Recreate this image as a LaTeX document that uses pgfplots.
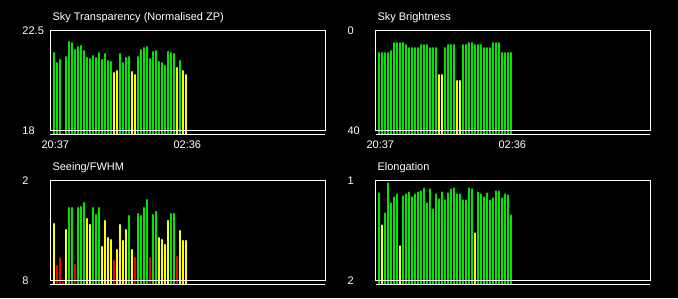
\documentclass[border=0pt]{standalone}
\usepackage{fontspec}
\setmainfont{Liberation Sans}
\usepackage{pgfplots}
\pgfplotsset{compat=1.18}

\definecolor{bgreen}{RGB}{0,230,0}
\definecolor{byellow}{RGB}{255,255,0}
\definecolor{bred}{RGB}{240,0,0}

\newcommand{\lbl}{\fontsize{11}{13}\selectfont}

\pgfplotsset{
  panel/.style={
    scale only axis, width=275pt, height=104pt,
    xmin=-1.1667, xmax=90.5,
    anchor=south west,
    axis line style={draw=none},
    tick style={draw=none},
    major tick length=0pt,
    clip mode=individual,
    xtick=\empty,
    tick label style={font=\lbl, text=white, inner sep=0pt},
    yticklabel style={anchor=west, xshift=-28.2pt},
    xticklabel style={anchor=north, yshift=-6.2pt},
  },
  % thin bars drawn as fat error bars from the value to the base line
  bar/.style n args={3}{only marks, mark=none,
    error bars/.cd, y dir=#2, y fixed=#3, error mark=none,
    error bar style={draw=#1, line width=2pt}},
}

\begin{document}
\begin{tikzpicture}
\fill[black] (0pt,0pt) rectangle (678pt,298pt);
\useasboundingbox (0pt,0pt) rectangle (678pt,298pt);

% titles
\node[anchor=base west, inner sep=0pt, text=white, font=\lbl] at (52.3pt,277.3pt) {Sky Transparency (Normalised ZP)};
\node[anchor=base west, inner sep=0pt, text=white, font=\lbl] at (377.3pt,277.3pt) {Sky Brightness};
\node[anchor=base west, inner sep=0pt, text=white, font=\lbl] at (52.3pt,127.3pt) {Seeing/FWHM};
\node[anchor=base west, inner sep=0pt, text=white, font=\lbl] at (377.3pt,127.3pt) {Elongation};

% Sky transparency
\begin{axis}[panel, at={(50.5pt,163.5pt)},
    ymin=17.82, ymax=22.5,
    ytick={18,22.5}, yticklabels={18,22.5},
    xtick={0.43,44.43}, xticklabels={20:37,02:36}]
  \addplot[bar={bgreen}{minus}{5}] coordinates {
    (0,21.61)(1,21.16)(2,21.30)(4,21.43)(5,22.11)(6,22.06)(7,21.75)(8,21.88)
    (9,21.93)(10,21.70)(11,21.39)(12,21.34)(13,21.48)(14,21.39)(15,21.61)
    (16,21.30)(17,21.57)(18,21.25)(19,21.21)(22,21.57)(23,21.16)(24,21.39)
    (25,21.43)(28,21.43)(29,21.75)(30,21.84)(31,21.88)(32,21.34)(33,21.66)
    (34,21.70)(35,21.21)(36,21.16)(37,21.03)(38,21.66)(39,21.61)(40,21.57)
    (42,21.25)};
  \addplot[bar={byellow}{minus}{5}] coordinates {
    (20,20.71)(21,20.80)(26,20.76)(27,20.62)(41,20.94)(43,20.80)(44,20.62)};
  \addplot[bar={bred}{minus}{5}] coordinates {(3,18.00)};
  \draw[white, line width=1pt] (axis cs:-1.1667,18) rectangle (axis cs:90.5,22.5);
  \draw[white, line width=1pt] (axis cs:-1.1667,17.82) -- (axis cs:90.5,17.82);
\end{axis}

% Sky brightness
\begin{axis}[panel, at={(375.5pt,163.5pt)},
    y dir=reverse, ymin=0, ymax=41.6,
    ytick={0,40}, yticklabels={0,40},
    xtick={0.43,44.43}, xticklabels={20:37,02:36}]
  \addplot[bar={bgreen}{plus}{50}] coordinates {
    (0,7.9)(1,7.9)(2,7.9)(3,7.9)(4,7.1)(5,3.9)(6,3.9)(7,3.9)(8,3.9)(9,4.7)
    (10,5.9)(11,5.9)(12,5.9)(13,5.9)(14,4.7)(15,4.7)(16,4.7)(17,5.9)(18,5.9)
    (19,5.9)(22,5.9)(23,4.7)(24,4.7)(25,4.7)(28,4.7)(29,4.7)(30,3.9)(31,3.9)
    (32,4.7)(33,4.7)(34,4.7)(35,5.9)(36,5.9)(37,5.9)(38,3.9)(39,3.9)(40,3.9)
    (41,7.9)(42,7.9)(43,7.9)(44,7.9)};
  \addplot[bar={byellow}{plus}{50}] coordinates {
    (20,16.7)(21,16.7)(26,19.1)(27,19.1)};
  \draw[white, line width=1pt] (axis cs:-1.1667,0) rectangle (axis cs:90.5,40);
  \draw[white, line width=1pt] (axis cs:-1.1667,41.6) -- (axis cs:90.5,41.6);
\end{axis}

% Seeing
\begin{axis}[panel, at={(50.5pt,13.5pt)},
    y dir=reverse, ymin=2, ymax=8.24,
    ytick={2,8}, yticklabels={2,8}]
  \addplot[bar={bgreen}{plus}{8}] coordinates {
    (5,3.48)(6,3.48)(8,3.48)(9,3.42)(10,3.18)(13,3.48)(14,3.90)(15,3.48)
    (25,3.96)(28,3.84)(29,3.96)(30,3.48)(31,3.00)(33,3.90)(34,3.72)(39,3.84)
    (40,3.84)};
  \addplot[bar={byellow}{plus}{8}] coordinates {
    (0,4.44)(4,4.80)(11,4.14)(12,4.50)(16,5.82)(17,4.26)(18,5.28)(19,5.40)
    (21,6.00)(22,4.50)(23,5.46)(24,4.80)(26,6.00)(35,5.28)(36,5.40)(37,5.70)
    (38,4.26)(42,4.86)(43,5.46)(44,5.46)};
  \addplot[bar={bred}{plus}{8}] coordinates {
    (1,6.96)(2,6.48)(3,7.96)(7,6.90)(20,6.66)(27,6.48)(32,6.48)(41,6.42)};
  \draw[white, line width=1pt] (axis cs:-1.1667,2) rectangle (axis cs:90.5,8);
  \draw[white, line width=1pt] (axis cs:-1.1667,8.24) -- (axis cs:90.5,8.24);
\end{axis}

% Elongation
\begin{axis}[panel, at={(375.5pt,13.5pt)},
    y dir=reverse, ymin=1, ymax=2.04,
    ytick={1,2}, yticklabels={1,2}]
  \addplot[bar={bgreen}{plus}{1.5}] coordinates {
    (0,1.10)(2,1.30)(3,1.00)(4,1.20)(5,1.14)(6,1.11)(8,1.13)(9,1.11)(10,1.09)
    (11,1.14)(12,1.11)(13,1.09)(14,1.08)(15,1.05)(16,1.20)(17,1.06)(18,1.26)
    (19,1.11)(20,1.16)(21,1.09)(22,1.17)(23,1.10)(24,1.06)(25,1.05)(26,1.11)
    (27,1.11)(28,1.17)(29,1.17)(30,1.05)(31,1.06)(33,1.09)(34,1.11)(35,1.14)
    (36,1.10)(37,1.17)(38,1.15)(39,1.08)(40,1.08)(41,1.15)(42,1.11)(43,1.12)
    (44,1.32)};
  \addplot[bar={byellow}{plus}{1.5}] coordinates {(1,1.42)(7,1.63)(32,1.50)};
  \draw[white, line width=1pt] (axis cs:-1.1667,1) rectangle (axis cs:90.5,2);
  \draw[white, line width=1pt] (axis cs:-1.1667,2.04) -- (axis cs:90.5,2.04);
\end{axis}
\end{tikzpicture}
\end{document}
